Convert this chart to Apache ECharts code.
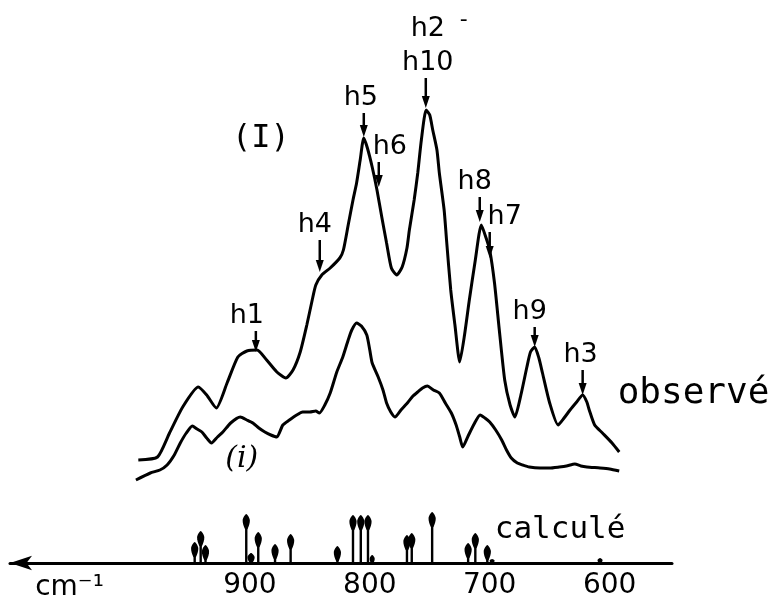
<!DOCTYPE html>
<html>
<head>
<meta charset="utf-8">
<script src="https://cdn.jsdelivr.net/npm/echarts@6/dist/echarts.min.js"></script>
<style>
  html, body { margin: 0; padding: 0; background: #fff; }
  #chart { width: 779px; height: 604px; }
</style>
</head>
<body>
<div id="chart"></div>
<script>
// Observed spectrum (I): wavenumber (cm-1) and relative absorption
const obsWavenumber = [993, 977, 967, 956, 943, 936, 928, 919, 910, 902.5,
  894, 886, 877.5, 870, 864, 858, 852.5, 848, 845, 840,
  833, 825, 822, 818, 814, 811, 808, 805, 802, 798,
  794, 790, 786, 782, 777.5, 773, 769, 767, 763, 760,
  757, 753, 750, 747.5, 744, 742, 738, 736, 732.5, 729,
  725, 721, 717, 712, 707, 703, 700, 696, 692, 687.5,
  683, 679, 674, 669, 666, 662.5, 659, 656, 650, 643,
  638, 633, 627.5, 622.5, 619, 617, 612.5, 606, 598, 592];
const obsAbsorption = [20.6, 21.2, 26, 31.2, 35.2, 33.6, 31, 36, 41.2, 42.4,
  42.6, 40.6, 38.2, 37, 38.6, 42.2, 47.6, 52.6, 55.6, 57.6,
  59, 61, 62.6, 67.6, 72.6, 76, 80.6, 85, 83, 79.2,
  74.6, 69.2, 64, 59, 57.6, 59.2, 63, 66.6, 72.6, 78,
  84.6, 90.6, 89.6, 86.6, 82.6, 78, 70.6, 64.6, 54.6, 47.6,
  40.2, 45.6, 52.6, 60.6, 67.6, 65, 62.6, 56, 46.6, 36.6,
  31.6, 29.2, 33.6, 39.2, 42.2, 43.2, 41, 38, 32, 27.6,
  29, 30.6, 32.2, 33.6, 32.2, 30.6, 27.6, 26, 24, 22.2];

// Observed spectrum (i)
const refWavenumber = [995, 983, 975, 969, 963, 958, 953, 948, 944, 940,
  936, 932, 927, 922.5, 916, 908, 902.5, 897.5, 892.5, 887.5,
  882.5, 877.5, 872.5, 867, 861, 856, 850, 845, 842, 837.5,
  833, 827.5, 822.5, 818, 815, 811, 807, 802.5, 800, 798,
  793, 789, 786, 782.5, 779, 774, 768, 764, 760, 756,
  752, 747, 742, 737, 732, 728, 725, 722.5, 718, 713,
  708, 704, 700, 695, 690, 686, 682, 677, 672.5, 667,
  658, 650, 642, 636, 629, 624, 619, 608, 600, 592];
const refAbsorption = [16.6, 18, 18.6, 19.6, 21.6, 24, 26, 27.4, 26.8, 26.2,
  25, 24, 25.2, 26.2, 28, 29.2, 28.6, 28, 27, 26.2,
  25.6, 25.2, 27.6, 28.6, 29.6, 30.2, 30.2, 30.4, 30, 31.6,
  34, 38.2, 41.2, 44.6, 46.6, 48, 47.4, 45.6, 42.6, 40,
  37.2, 34.6, 32, 30.2, 29.2, 30.6, 32.2, 33.4, 34.2, 35,
  35.4, 34.6, 34, 32, 30, 27.6, 25.2, 23.2, 25.4, 27.8,
  29.6, 29, 28.2, 26.6, 24.6, 22.6, 21, 20, 19.6, 19.2,
  19, 19, 19.2, 19.4, 19.8, 19.4, 19.2, 19, 18.8, 18.4];

// Calculated bands: position (cm-1) and intensity
const calcWavenumber = [946, 941, 937, 903, 899, 893, 879, 866, 827, 814,
  807.5, 801.5, 798, 769, 765, 748, 718, 712, 702, 698, 608];
const calcIntensity = [4.2, 6.4, 3.6, 9.8, 2, 6.2, 3.8, 5.8, 3.4, 9.6,
  9.6, 9.6, 1.6, 5.6, 6, 10.2, 4, 6, 3.6, 0.8, 1];

// Assigned bands on spectrum (I), pointed at the curve
const bandNames = ['h1', 'h4', 'h5', 'h6', 'h2\nh10', 'h8', 'h7', 'h9', 'h3'];
const bandWavenumber = [895, 841.7, 805, 792.5, 753.3, 708.3, 700, 662.5, 622.5];
const bandAbsorption = [42.2, 58.2, 85.2, 75.2, 91, 68.2, 61, 43.2, 33.6];

// Free text on the plot
const noteText = ['(I)', '(i)', 'observé', 'calculé', 'cm⁻¹', '-'];
const noteWavenumber = [890.8, 906.7, 593.3, 695.8, 1079, 721.7];
const noteAbsorption = [84.8, 20.8, 33.8, 6.6, -5, 108.6];

// Wavenumber tick labels
const tickValues = [900, 800, 700, 600];

const FONT = 'DejaVu Sans';
const MONO = 'DejaVu Sans Mono';
const INK = '#000';

// label offset (px) and arrow length (px) for each band marker
const bandLayout = [
  { dx: -9, len: 21 }, { dx: -5, len: 32 }, { dx: -3, len: 24 }, { dx: 11, len: 25 },
  { dx: 2, len: 30 }, { dx: -5, len: 25 }, { dx: 15, len: 26 }, { dx: -5, len: 20 },
  { dx: -2, len: 25 }
];
const noteStyle = [
  { fontSize: 32, fontFamily: MONO, align: 'center' },
  { fontSize: 30, fontFamily: 'DejaVu Serif', fontStyle: 'italic', align: 'center' },
  { fontSize: 36, fontFamily: MONO, align: 'left' },
  { fontSize: 31, fontFamily: MONO, align: 'left' },
  { fontSize: 28, fontFamily: FONT, align: 'left' },
  { fontSize: 22, fontFamily: FONT, align: 'center' }
];

const zip = (a, b) => a.map((v, i) => [v, b[i]]);

// one calculated band: a stick from the baseline with a drop-shaped head
function renderStick(params, api) {
  const base = api.coord([api.value(0), 0]);
  const top = api.coord([api.value(0), api.value(1)]);
  const x = base[0], t = top[1], h = base[1] - t;
  const headLen = Math.min(15, h);
  const w = h < 9 ? 2.5 : 3.6;
  return {
    type: 'group',
    children: [
      { type: 'line', shape: { x1: x, y1: base[1], x2: x, y2: t + 2 },
        style: { stroke: INK, lineWidth: 2.4 } },
      { type: 'polygon',
        shape: { points: [[x, t], [x + w, t + headLen * 0.4], [x + 1.3, t + headLen],
                          [x - 1.3, t + headLen], [x - w, t + headLen * 0.4]], smooth: 0.3 },
        style: { fill: INK } }
    ]
  };
}

// band marker: down arrow ending on the curve, name written above it
function renderBand(params, api) {
  const i = params.dataIndex;
  const tip = api.coord([api.value(0), api.value(1)]);
  const lay = bandLayout[i];
  const top = tip[1] - lay.len;
  const lines = bandNames[i].split('\n');
  const children = [
    { type: 'line', shape: { x1: tip[0], y1: top, x2: tip[0], y2: tip[1] - 8 },
      style: { stroke: INK, lineWidth: 2.5 } },
    { type: 'polygon',
      shape: { points: [[tip[0], tip[1]], [tip[0] - 4, tip[1] - 12], [tip[0] + 4, tip[1] - 12]] },
      style: { fill: INK } }
  ];
  lines.forEach((t, k) => {
    children.push({
      type: 'text',
      style: {
        text: t, x: tip[0] + lay.dx, y: top - 15 - (lines.length - 1 - k) * 34,
        align: 'center', verticalAlign: 'middle',
        fontSize: 27, fontFamily: FONT, fill: INK
      }
    });
  });
  return { type: 'group', children };
}

function renderNote(params, api) {
  const i = params.dataIndex;
  const p = api.coord([api.value(0), api.value(1)]);
  const s = noteStyle[i];
  return {
    type: 'text',
    style: {
      text: noteText[i], x: p[0], y: p[1],
      align: s.align, verticalAlign: 'middle',
      fontSize: s.fontSize, fontFamily: s.fontFamily,
      fontStyle: s.fontStyle || 'normal', fill: INK
    }
  };
}

const chart = echarts.init(document.getElementById('chart'), null, { renderer: 'canvas' });
chart.setOption({
  animation: false,
  backgroundColor: '#fff',
  grid: { left: 10, right: 107, top: 63, bottom: 41 },
  xAxis: {
    type: 'value', min: 548, max: 1100, inverse: true,
    axisLine: {
      show: true, onZero: false,
      lineStyle: { color: INK, width: 3 },
      symbol: ['arrow', 'none'], symbolSize: [11, 22]
    },
    axisTick: { show: false },
    splitLine: { show: false },
    axisLabel: {
      customValues: tickValues,
      fontSize: 28, fontFamily: FONT, color: INK, margin: 9
    }
  },
  yAxis: { type: 'value', min: 0, max: 100, show: false },
  series: [
    {
      type: 'line', data: zip(obsWavenumber, obsAbsorption),
      showSymbol: false, smooth: 0.2, clip: false,
      lineStyle: { color: INK, width: 3 }
    },
    {
      type: 'line', data: zip(refWavenumber, refAbsorption),
      showSymbol: false, smooth: 0.2, clip: false,
      lineStyle: { color: INK, width: 3 }
    },
    {
      type: 'custom', data: zip(calcWavenumber, calcIntensity),
      renderItem: renderStick, clip: false
    },
    {
      type: 'custom', data: zip(bandWavenumber, bandAbsorption),
      renderItem: renderBand, clip: false
    },
    {
      type: 'custom', data: zip(noteWavenumber, noteAbsorption),
      renderItem: renderNote, clip: false
    }
  ]
});
</script>
</body>
</html>
